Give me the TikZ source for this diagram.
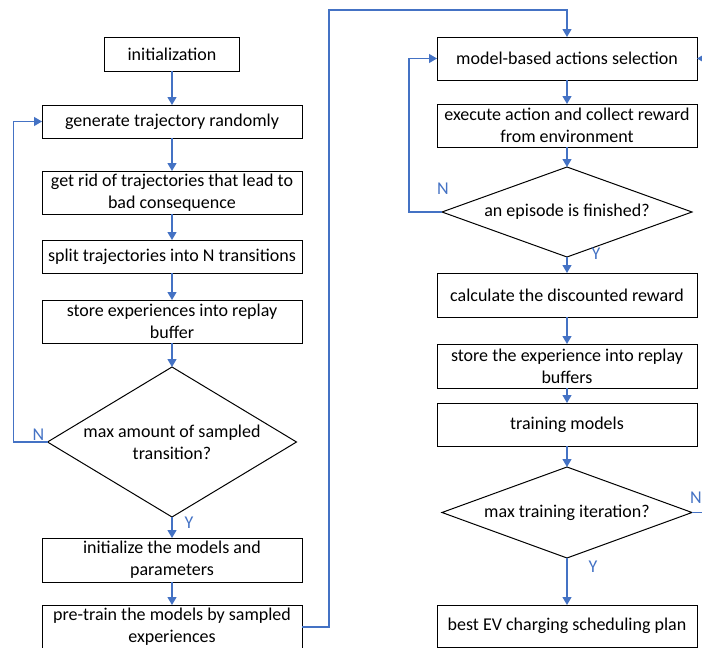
\documentclass[tikz,border=0pt]{standalone}
\usepackage{fontspec}
\setmainfont{Carlito}
\usepackage{xcolor}
\usepackage{tikz}
\usetikzlibrary{positioning,calc,shapes.geometric,arrows.meta}
\definecolor{flowblue}{RGB}{68,114,196}

\begin{document}
\begin{tikzpicture}[
	x=1pt, y=1pt,
	font=\fontsize{18pt}{22pt}\selectfont,
	% Style for the process boxes
	stepbox/.style={draw=black, line width=1pt, minimum width=260pt, minimum height=33pt, inner sep=1pt, outer sep=0pt, align=center},
	tallbox/.style={stepbox, minimum height=43pt},
	% Style for the decision diamonds
	decision/.style={diamond, draw=black, line width=1pt, inner sep=0pt, outer sep=0pt, minimum width=250pt, align=center},
	% Style for the blue flow arrows
	flow_arrow/.style={
		-{Triangle[length=8pt,width=9pt]},
		flowblue, line width=1.3pt
	},
	answer/.style={flowblue, inner sep=0pt}
	]
	\clip (0,0) rectangle (702,-648);
	
	% --- LEFT COLUMN ---
	\node[stepbox, minimum width=135pt, minimum height=34pt] (init) at (172,-54) {initialization};
	\node[stepbox, below=34pt of init] (gen) {generate trajectory randomly};
	\node[tallbox, below=33pt of gen] (rid) {get rid of trajectories that lead to\\bad consequence};
	\node[stepbox, below=26pt of rid] (split) {split trajectories into N transitions};
	\node[tallbox, below=27pt of split] (store) {store experiences into replay\\buffer};
	\node[decision, aspect=1.66, minimum width=249pt, minimum height=150pt, below=24pt of store] (dia1) {max amount of sampled\\transition?};
	\node[tallbox, minimum height=44pt, below=21pt of dia1] (initm) {initialize the models and\\parameters};
	\node[tallbox, minimum height=44pt, below=23pt of initm] (pretrain) {pre-train the models by sampled\\experiences};
	
	% --- RIGHT COLUMN ---
	\node[tallbox] (model) at (567,-58.5) {model-based actions selection};
	\node[tallbox, below=24pt of model] (exec) {execute action and collect reward\\from environment};
	\node[decision, aspect=2.78, minimum height=90pt, below=20pt of exec] (dia2) {an episode is finished?};
	\node[tallbox, minimum height=44pt, below=16pt of dia2] (calc) {calculate the discounted reward};
	\node[tallbox, minimum height=44pt, below=27pt of calc] (storeb) {store the experience into replay\\buffers};
	\node[tallbox, below=15pt of storeb] (train) {training models};
	\node[decision, aspect=2.78, minimum height=91pt, below=21pt of train] (dia3) {max training iteration?};
	\node[stepbox, minimum height=42pt, below=47pt of dia3] (best) {best EV charging scheduling plan};
	
	% --- STRAIGHT ARROWS ---
	\foreach \a/\b in {init/gen, gen/rid, rid/split, split/store, store/dia1, dia1/initm, initm/pretrain,
		model/exec, exec/dia2, dia2/calc, calc/storeb, storeb/train, train/dia3, dia3/best}
	\draw[flow_arrow] (\a.south) -- (\b.north);
	
	% --- LOOPS ---
	% N: back to generating trajectories
	\draw[flow_arrow] (dia1.west) -- ++(-34,0) |- (gen.west);
	% pre-training done: go to the right column
	\draw[flow_arrow] (pretrain.east) -- ++(27,0) |- ($(model.north)+(0,27)$) -- (model.north);
	% N: episode not finished
	\draw[flow_arrow] (dia2.west) -- ++(-33,0) |- (model.west);
	% N: keep training
	\draw[flow_arrow] (dia3.east) -- ++(20,0) |- (model.east);
	
	% --- Y / N LABELS ---
	\node[answer] (n1) at ($(dia1.west)+(-9,7)$) {N};
	\node[answer] (y1) at ($(dia1.south)+(17,-6)$) {Y};
	\node[answer] (n2) at ($(dia2.west)+(1,23)$) {N};
	\node[answer] (y2) at ($(dia2.south)+(29,3)$) {Y};
	\node[answer] (n3) at ($(dia3.east)+(4,15)$) {N};
	\node[answer] (y3) at ($(dia3.south)+(26,-9)$) {Y};
	
\end{tikzpicture}
\end{document}
